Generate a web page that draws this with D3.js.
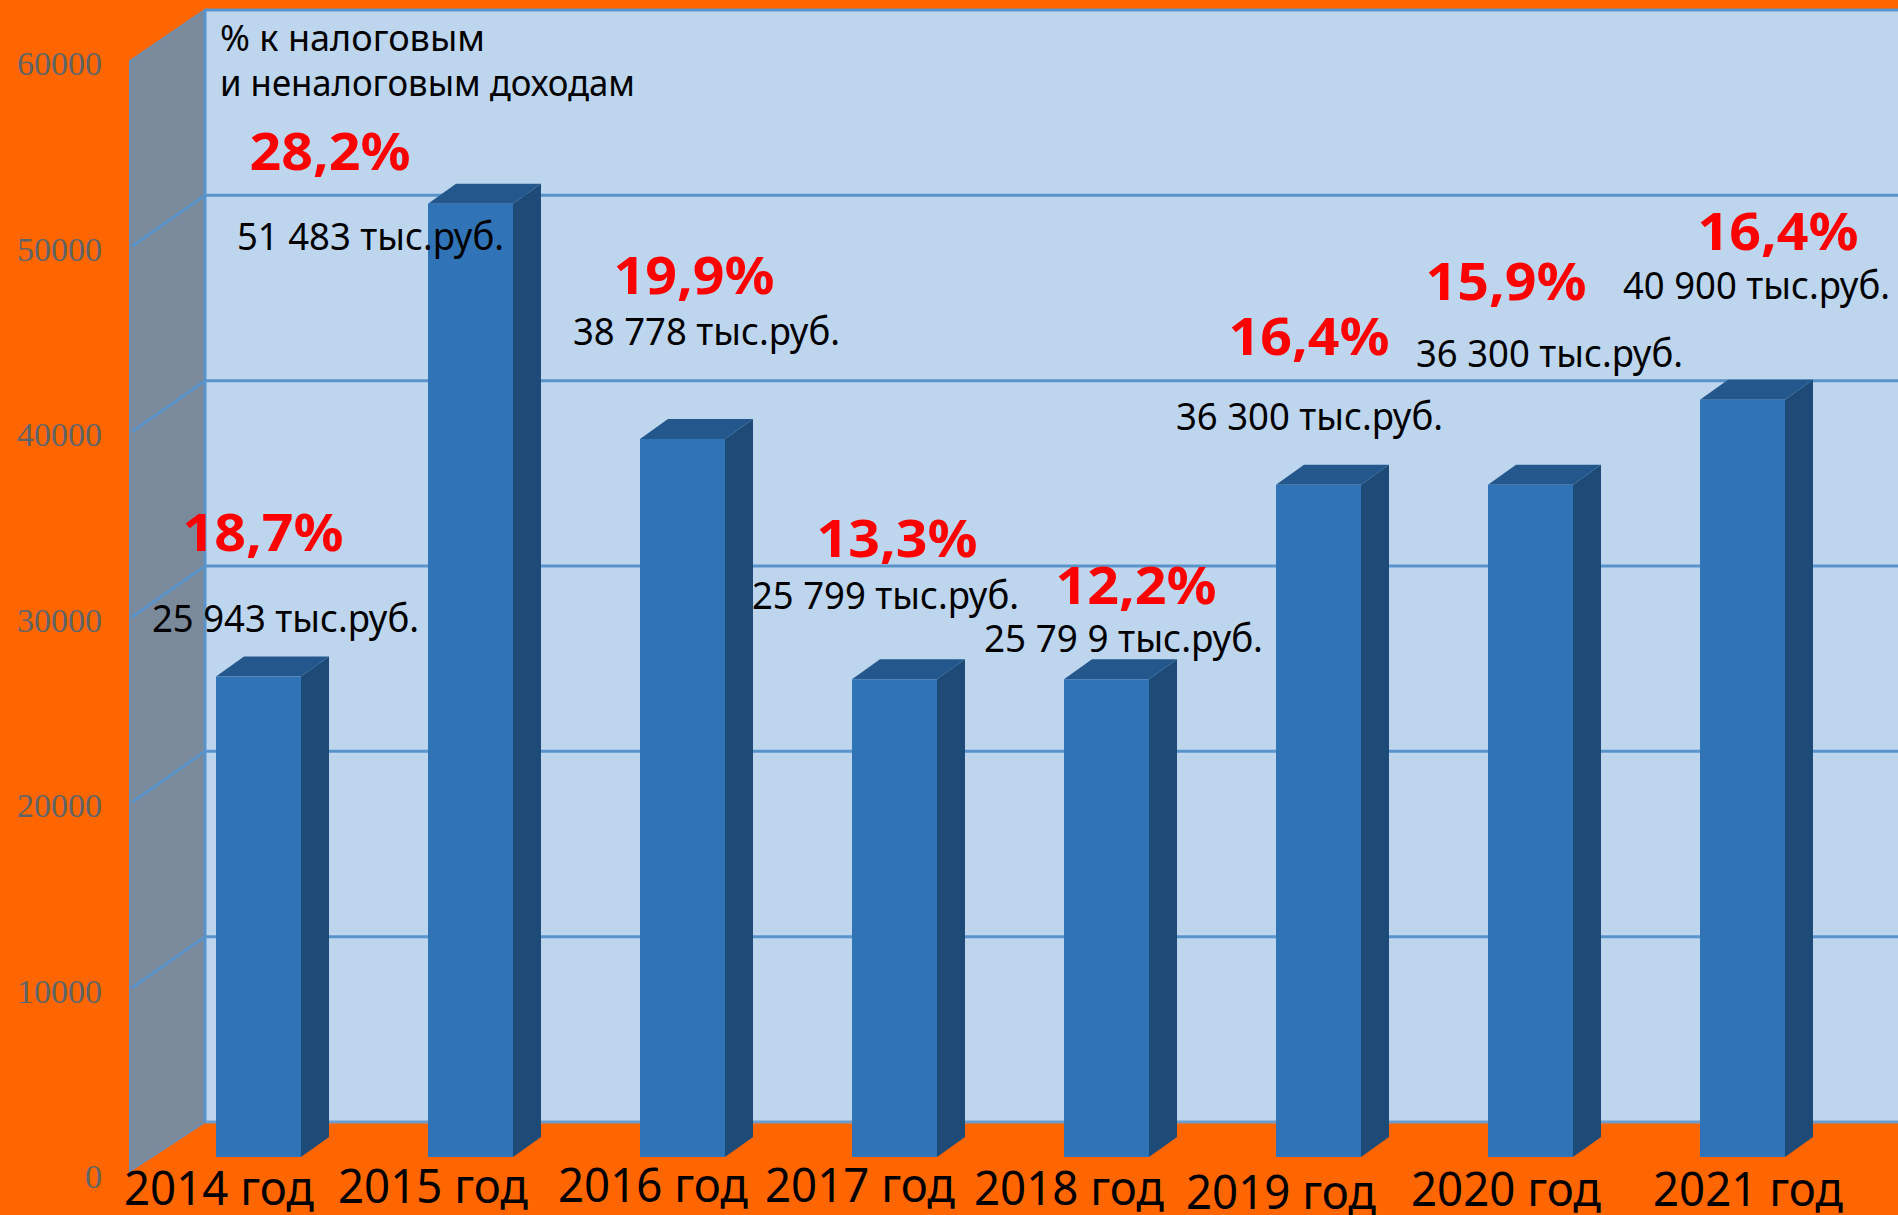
<!DOCTYPE html>
<html><head><meta charset="utf-8">
<script src="https://cdn.jsdelivr.net/npm/d3@7/dist/d3.min.js"></script>
<style>html,body{margin:0;padding:0;background:#FF6600}svg{display:block}</style></head>
<body><svg id="c" width="1898" height="1215"></svg>
<script>
const categories=["2014 год","2015 год","2016 год","2017 год","2018 год","2019 год","2020 год","2021 год"];
const values=[25943,51483,38778,25799,25799,36300,36300,40900];
const valueLabels=["25 943 тыс.руб.","51 483 тыс.руб.","38 778 тыс.руб.","25 799 тыс.руб.","25 79 9 тыс.руб.","36 300 тыс.руб.","36 300 тыс.руб.","40 900 тыс.руб."];
const shares=["18,7%","28,2%","19,9%","13,3%","12,2%","16,4%","15,9%","16,4%"];
const ticks=[0,10000,20000,30000,40000,50000,60000];
const note=["% к налоговым","и неналоговым доходам"];
// label placement (page pixels), kept apart from the data
const shareAt=[[263,551],[330,170],[694,294],[897,557],[1136,604],[1309,355],[1506,300],[1778,250]];
const valueAt=[[152,632],[237,250],[573,345],[752,609],[984,652],[1176,430],[1416,367],[1623,299]];
const valueLen=[267,267,267,267,279,267,267,267];
const catAt=[[219,1205],[433,1203],[653,1202],[860,1202],[1069,1205],[1281,1209],[1506,1206],[1748,1206]];
const noteLen=[265,415];

const W=1898,wallL=205,wallT=10,floorB=1122,frontL=130,frontB=1171,frontT=61;
const font="'Noto Sans','DejaVu Sans',sans-serif";
const svg=d3.select("#c");
const yBack=d3.scaleLinear().domain([0,60000]).range([floorB,wallT]);
const yBar=d3.scaleLinear().domain([0,60000]).range([1157,46]);
const yAxis=d3.scaleLinear().domain([0,60000]).range([1177,64]);
const bw=85;
const xBar=d3.scalePoint().domain(categories).range([216,216+212*7]);
const bx=i=>xBar(categories[i]);

svg.append("rect").attr("width",W).attr("height",1215).attr("fill","#FF6600");
// back wall
svg.append("rect").attr("x",wallL).attr("y",wallT).attr("width",W-wallL).attr("height",floorB-wallT)
  .attr("fill","#BDD6EE");
// left wall
svg.append("path").attr("d",`M${frontL},${frontT}L${wallL},${wallT}L${wallL},${floorB}L${frontL},${frontB}Z`)
  .attr("fill","#7B8A9A").attr("stroke","#6E8DAE").attr("stroke-width",2);
// grid
const grid=svg.append("g").attr("fill","none").attr("stroke","#5A93C9").attr("stroke-width",3);
ticks.forEach(t=>{
  const y=yBack(t);
  if(t>0){
    grid.append("path").attr("d",`M${W},${y}L${wallL},${y}`+(t<60000?`L${frontL+2},${y+(frontT-wallT)}`:""));
  } else {
    grid.append("path").attr("d",`M${W},${y}L${wallL},${y}`).attr("stroke","#6E9CC8");
  }
});
svg.append("line").attr("x1",wallL).attr("x2",wallL).attr("y1",wallT).attr("y2",floorB).attr("stroke","#5A93C9").attr("stroke-width",3);
// y axis
const ax=svg.append("g").attr("transform","translate(102,0)")
  .call(d3.axisLeft(yAxis).tickValues(ticks).tickFormat(d3.format("d")).tickSize(0).tickPadding(0));
ax.select(".domain").remove();
ax.selectAll("text").attr("font-family","'Liberation Serif',serif").attr("font-size",34).attr("fill","#5F6468");
// bars
const dx=28,dy=20;
const g=svg.selectAll("g.bar").data(values).join("g").attr("class","bar");
g.append("path").attr("fill","#1D4A76").attr("d",(d,i)=>{const r=bx(i)+bw,t=yBar(d),b=yBar(0);
  return `M${r},${t}L${r+dx},${t-dy}L${r+dx},${b-dy}L${r},${b}Z`;});
g.append("path").attr("fill","#24588C").attr("d",(d,i)=>{const l=bx(i),r=l+bw,t=yBar(d);
  return `M${l},${t}L${l+dx},${t-dy}L${r+dx},${t-dy}L${r},${t}Z`;});
g.append("rect").attr("fill","#3074B7").attr("x",(d,i)=>bx(i)).attr("width",bw)
  .attr("y",d=>yBar(d)).attr("height",d=>yBar(0)-yBar(d));
// category labels
svg.selectAll("text.cat").data(categories).join("text").attr("class","cat")
  .attr("x",(d,i)=>catAt[i][0]).attr("y",(d,i)=>catAt[i][1]).attr("text-anchor","middle")
  .attr("font-family",font).attr("font-size",48).attr("fill","#000")
  .attr("textLength",190).attr("lengthAdjust","spacingAndGlyphs").text(d=>d);
// note
svg.selectAll("text.note").data(note).join("text").attr("class","note")
  .attr("x",220).attr("y",(d,i)=>51+45*i).attr("font-family",font).attr("font-size",37).attr("fill","#000")
  .attr("textLength",(d,i)=>noteLen[i]).attr("lengthAdjust","spacingAndGlyphs").text(d=>d);
// value labels
svg.selectAll("text.val").data(valueLabels).join("text").attr("class","val")
  .attr("x",(d,i)=>valueAt[i][0]).attr("y",(d,i)=>valueAt[i][1])
  .attr("font-family",font).attr("font-size",38).attr("fill","#000")
  .attr("textLength",(d,i)=>valueLen[i]).attr("lengthAdjust","spacingAndGlyphs").text(d=>d);
// share labels
svg.selectAll("text.share").data(shares).join("text").attr("class","share")
  .attr("x",(d,i)=>shareAt[i][0]).attr("y",(d,i)=>shareAt[i][1]).attr("text-anchor","middle")
  .attr("font-family",font).attr("font-weight",700).attr("font-size",52).attr("fill","#FF0000")
  .attr("textLength",161).attr("lengthAdjust","spacingAndGlyphs").text(d=>d);
</script></body></html>
